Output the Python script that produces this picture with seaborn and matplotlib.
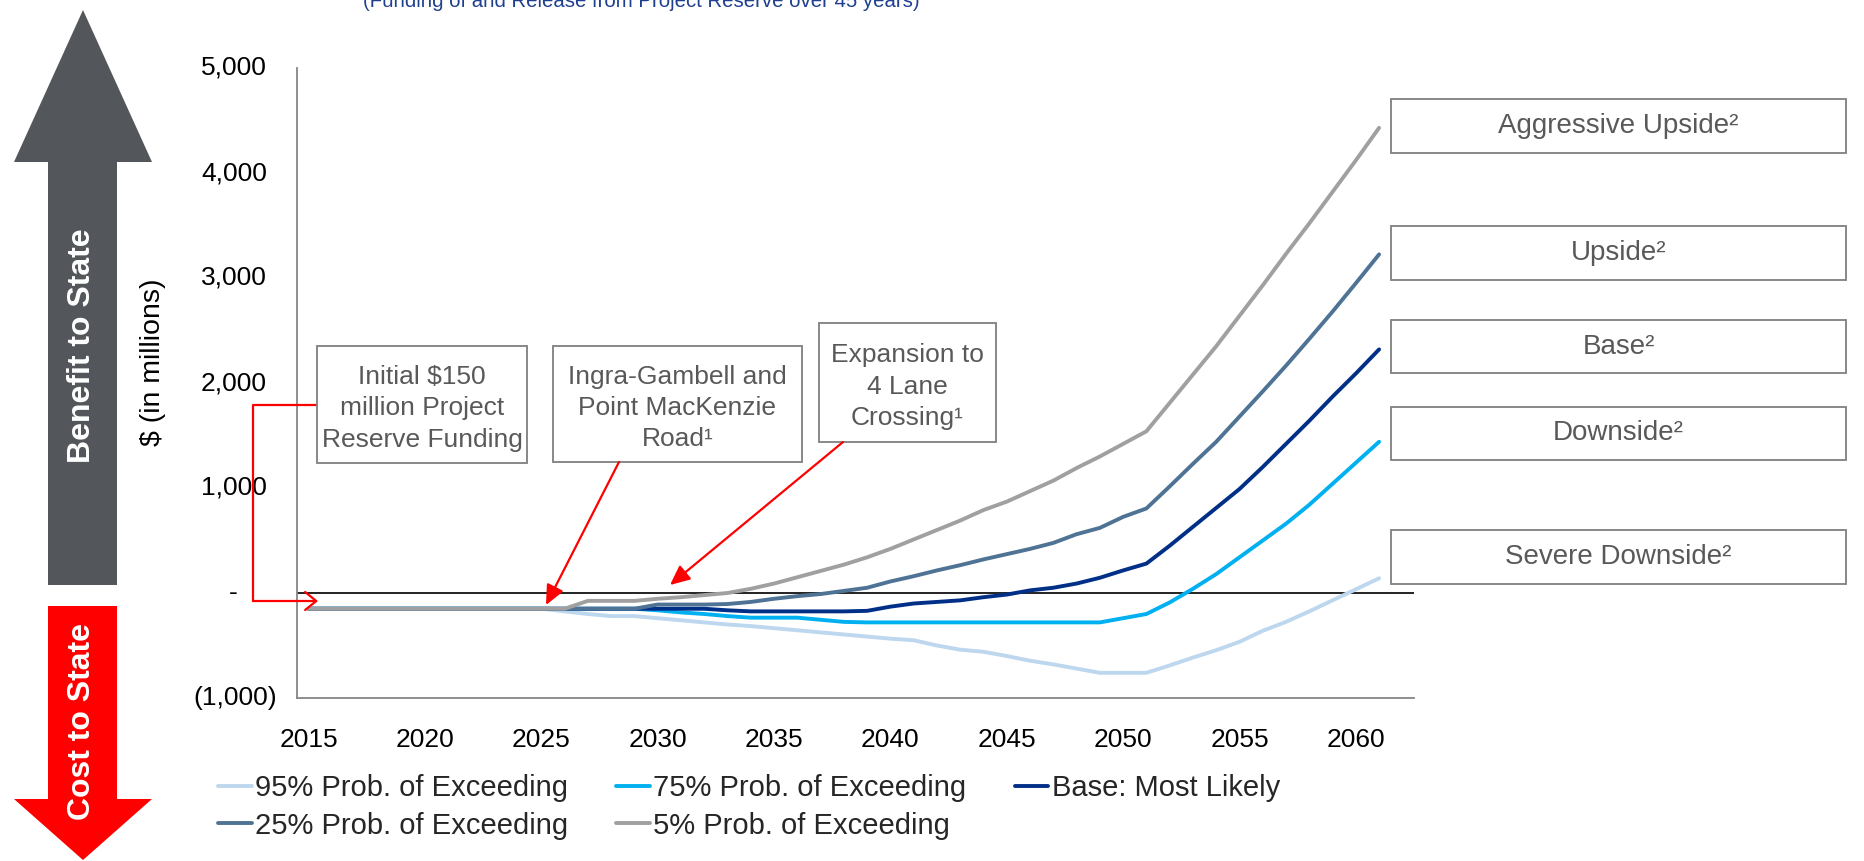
import numpy as np
import pandas as pd
import matplotlib
matplotlib.use("Agg")
import matplotlib.pyplot as plt
import seaborn as sns
from matplotlib import font_manager
from matplotlib.patches import Rectangle, Polygon, FancyArrowPatch
from matplotlib.lines import Line2D
from matplotlib.transforms import blended_transform_factory

# ---------------- data ----------------
years = list(range(2015, 2062))

series_names = ["95% Prob. of Exceeding", "75% Prob. of Exceeding", "Base: Most Likely",
                "25% Prob. of Exceeding", "5% Prob. of Exceeding"]
series_colors = ["#BDD7EE", "#00B0F0", "#002F87", "#4F7394", "#A0A0A0"]

p95 = [-150] * 11 + [-175, -200, -220, -220, -240, -260, -280, -300, -315, -335, -355, -375,
                     -395, -415, -435, -450, -500, -540, -560, -600, -645, -680, -720, -760,
                     -760, -760, -690, -615, -545, -465, -360, -275, -175, -70, 35, 140]
p75 = [-150] * 15 + [-165, -185, -200, -220, -235, -235, -235, -255, -275] + [-280] * 11 + \
      [-240, -200, -90, 40, 180, 340, 500, 660, 840, 1040, 1240, 1440]
base = [-150] * 18 + [-165] + [-175] * 5 + [-170, -130, -100, -85, -70, -40, -15, 25, 50, 90,
                                             145, 215, 280, 450, 630, 810, 990, 1200, 1420,
                                             1640, 1870, 2090, 2320]
p25 = [-150] * 15 + [-110, -110, -110, -105, -85, -55, -30, -10, 20, 50, 110, 160, 215, 265,
                     320, 370, 420, 477, 560, 620, 725, 805, 1015, 1230, 1440, 1680, 1920,
                     2165, 2420, 2680, 2950, 3225]
p05 = [-150] * 12 + [-75, -75, -75, -55, -40, -20, 0, 40, 90, 150, 210, 270, 340, 420, 510,
                     600, 690, 790, 870, 970, 1070, 1190, 1300, 1420, 1540, 1810, 2080, 2350,
                     2640, 2930, 3230, 3520, 3820, 4120, 4430]

label_years = [2015, 2020, 2025, 2030, 2035, 2040, 2045, 2050, 2055, 2060]
y_values = [-1000, 0, 1000, 2000, 3000, 4000, 5000]
y_labels = ["(1,000)", "-", "1,000", "2,000", "3,000", "4,000", "5,000"]

scenario_labels = ["Aggressive Upside\u00b2", "Upside\u00b2", "Base\u00b2", "Downside\u00b2",
                   "Severe Downside\u00b2"]
event_labels = ["Initial $150\nmillion Project\nReserve Funding",
                "Ingra-Gambell and\nPoint MacKenzie\nRoad\u00b9",
                "Expansion to\n4 Lane\nCrossing\u00b9"]
title_text = "(Funding of and Release from Project Reserve over 45 years)"

# ---------------- styling ----------------
sns.set_theme(style="white")
plt.rcParams["font.family"] = ["Liberation Sans", "DejaVu Sans"]

# condensed face for the subtitle when available
try:
    font_manager.findfont("Liberation Sans Narrow", fallback_to_default=False)
    title_family, title_size = ["Liberation Sans Narrow"], 18
except ValueError:
    title_family, title_size = ["Liberation Sans"], 14.7

W, H = 1864, 861
fig = plt.figure(figsize=(W / 100, H / 100), dpi=100)
fig.patch.set_facecolor("white")


def fx(x):
    return x / W


def fy(y):
    return 1 - y / H


AX_L, AX_R, AX_T, AX_B = 297, 1414, 68, 698
ax = fig.add_axes([fx(AX_L), fy(AX_B), (AX_R - AX_L) / W, (AX_B - AX_T) / H])
ax.set_facecolor("white")

df = pd.DataFrame({
    "Year": years * 5,
    "Value": p95 + p75 + base + p25 + p05,
    "Series": sum([[n] * len(years) for n in series_names], []),
})

ax.axhline(0, color="#222222", lw=1.4, zorder=1)
sns.lineplot(data=df, x="Year", y="Value", hue="Series", hue_order=series_names,
             palette=dict(zip(series_names, series_colors)), linewidth=2.8,
             legend=False, ax=ax, estimator=None, sort=False, zorder=3)
for ln in ax.get_lines():
    ln.set_solid_capstyle("round")
    ln.set_solid_joinstyle("round")

ax.set_xlim(2014.5, 2062.5)
ax.set_ylim(-1000, 5000)
ax.set_xlabel("")
ax.set_ylabel("")

spine_c = "#868686"
for s in ["top", "right"]:
    ax.spines[s].set_visible(False)
for s in ["left", "bottom"]:
    ax.spines[s].set_color(spine_c)
    ax.spines[s].set_linewidth(1.3)

ax.set_xticks(np.arange(2014.5, 2063.0, 1.0), minor=True)
ax.set_xticks(label_years)
ax.set_xticklabels([str(y) for y in label_years], fontsize=19, color="black")
ax.tick_params(axis="x", which="major", length=0, pad=21.5)
ax.tick_params(axis="x", which="minor", length=6.3, width=1.0, color=spine_c, direction="out")

ax.set_yticks(y_values)
ax.set_yticklabels([])
ax.tick_params(axis="y", which="major", length=6.3, width=1.0, color=spine_c, direction="out")
ylab_tr = blended_transform_factory(fig.transFigure, ax.transData)
for v, lab in zip(y_values, y_labels):
    if lab == "-":
        xr = 238
    elif lab.startswith("("):
        xr = 277
    else:
        xr = 267
    ax.text(fx(xr), v, lab, transform=ylab_tr, ha="right", va="center", fontsize=19,
            color="black", parse_math=False)

fig.text(fx(153), fy(362), "$ (in millions)", rotation=90, ha="center", va="center",
         fontsize=20.5, color="black", parse_math=False)

# subtitle (partially above the top edge)
fig.text(fx(363), fy(7), title_text, ha="left", va="baseline", fontsize=title_size,
         family=title_family, color="#1F3F8F")

# ---------------- left direction arrows ----------------
up_arrow = [(48, 585), (48, 162), (14, 162), (83, 10), (152, 162), (117, 162), (117, 585)]
down_arrow = [(48, 606), (117, 606), (117, 799), (152, 799), (83, 860), (14, 799), (48, 799)]
fig.add_artist(Polygon([(fx(x), fy(y)) for x, y in up_arrow], closed=True,
                       transform=fig.transFigure, facecolor="#53565A", edgecolor="none"))
fig.add_artist(Polygon([(fx(x), fy(y)) for x, y in down_arrow], closed=True,
                       transform=fig.transFigure, facecolor="#FF0000", edgecolor="none"))
fig.text(fx(82), fy(346), "Benefit to State", rotation=90, ha="center", va="center",
         fontsize=23, fontweight="bold", color="white")
fig.text(fx(82), fy(722), "Cost to State", rotation=90, ha="center", va="center",
         fontsize=23, fontweight="bold", color="white")

# ---------------- scenario boxes on the right ----------------
scenario_boxes = [(99, 153), (226, 280), (320, 373), (407, 460), (530, 584)]
BX0, BX1 = 1391, 1846
for lab, (t, b) in zip(scenario_labels, scenario_boxes):
    fig.add_artist(Rectangle((fx(BX0), fy(b)), (BX1 - BX0) / W, (b - t) / H,
                             transform=fig.transFigure, facecolor="white",
                             edgecolor="#7F7F7F", lw=1.3))
    fig.text(fx((BX0 + BX1) / 2), fy((t + b) / 2), lab, ha="center", va="center",
             fontsize=20, color="#595959")

# ---------------- event call-outs ----------------
event_boxes = [(317, 346, 527, 463), (553, 346, 802, 462), (819, 323, 996, 442)]
for lab, (x0, y0, x1, y1) in zip(event_labels, event_boxes):
    fig.add_artist(Rectangle((fx(x0), fy(y1)), (x1 - x0) / W, (y1 - y0) / H,
                             transform=fig.transFigure, facecolor="white",
                             edgecolor="#7F7F7F", lw=1.3, zorder=5))
    fig.text(fx((x0 + x1) / 2), fy((y0 + y1) / 2 + 4), lab, ha="center", va="center",
             fontsize=19, color="#595959", linespacing=1.38, zorder=6, parse_math=False)

red = "#FF0000"
elbow = [(317, 405), (253, 405), (253, 601)]
fig.add_artist(Line2D([fx(x) for x, _ in elbow], [fy(y) for _, y in elbow],
                      transform=fig.transFigure, color=red, lw=1.6))
fig.add_artist(FancyArrowPatch((fx(253), fy(601)), (fx(318), fy(601)),
                               transform=fig.transFigure, color=red, lw=1.6,
                               arrowstyle="->,head_length=8,head_width=6.5",
                               mutation_scale=1, shrinkA=0, shrinkB=0, zorder=7))
for (sx, sy), (tx, ty) in [((619, 462), (546, 605)), ((843, 442), (670, 585))]:
    fig.add_artist(FancyArrowPatch((fx(sx), fy(sy)), (fx(tx), fy(ty)),
                                   transform=fig.transFigure, color=red, lw=1.6,
                                   arrowstyle="-|>,head_length=12,head_width=5.5",
                                   mutation_scale=1, shrinkA=0, shrinkB=0, zorder=7))

# ---------------- legend ----------------
order = [0, 3, 1, 4, 2]
handles = [Line2D([], [], color=series_colors[i], lw=2.8) for i in order]
labels = [series_names[i] for i in order]
fig.legend(handles, labels, ncol=3, loc="upper left", bbox_to_anchor=(fx(218), fy(774)),
           frameon=False, fontsize=21, handlelength=1.15, handletextpad=0.12,
           columnspacing=1.65, labelspacing=0.33, borderpad=0, borderaxespad=0)

fig.savefig("out.png", dpi=100, facecolor="white")
